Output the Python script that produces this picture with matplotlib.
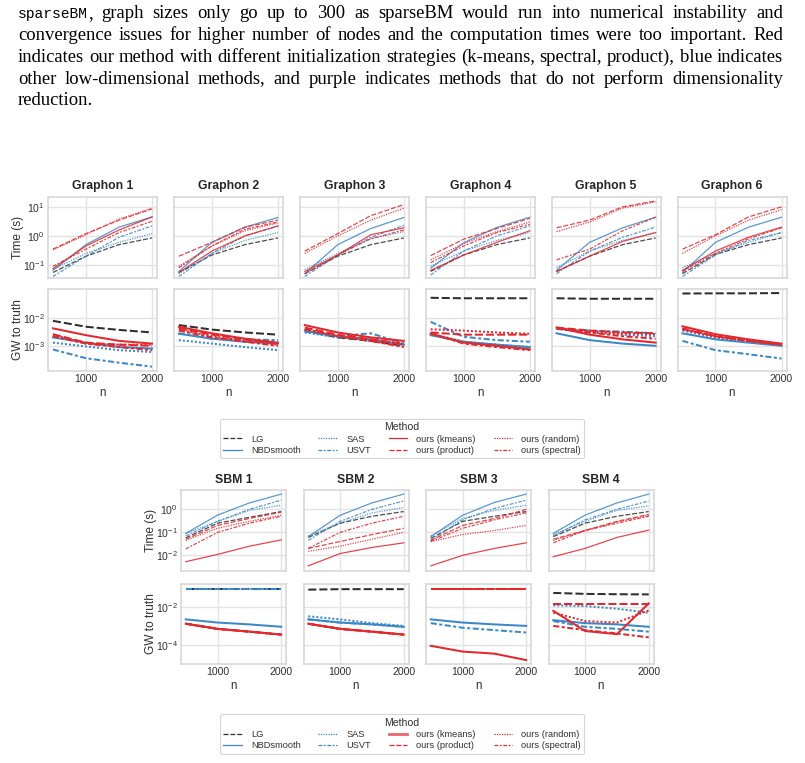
import matplotlib
matplotlib.use("Agg")
import matplotlib.pyplot as plt
from matplotlib.lines import Line2D

plt.rcParams['font.family'] = ['Liberation Sans', 'DejaVu Sans']

W, H = 805, 763

n_vals = [500, 1000, 1500, 2000]
methods = ["LG", "NBDsmooth", "SAS", "USVT",
           "ours (kmeans)", "ours (product)", "ours (random)", "ours (spectral)"]

graphon_titles = ["Graphon 1", "Graphon 2", "Graphon 3", "Graphon 4", "Graphon 5", "Graphon 6"]
sbm_titles = ["SBM 1", "SBM 2", "SBM 3", "SBM 4"]

# computation time (s), method order as in `methods`
g1_time = [[0.055, 0.2, 0.5, 0.85], [0.065, 0.5, 2.0, 4.5], [0.07, 0.25, 0.6, 1.2], [0.04, 0.2, 0.9, 2.2],
           [0.075, 0.45, 1.6, 4.5], [0.35, 1.2, 3.5, 8.5], [0.33, 1.1, 3.8, 9.0], [0.09, 0.35, 1.3, 3.2]]
g2_time = [[0.055, 0.22, 0.5, 0.85], [0.06, 0.6, 2.0, 4.3], [0.05, 0.25, 0.7, 1.3], [0.04, 0.25, 1.0, 2.2],
           [0.055, 0.3, 1.0, 2.2], [0.2, 0.6, 2.0, 3.5], [0.09, 0.45, 1.5, 2.8], [0.08, 0.45, 1.7, 3.0]]
g3_time = [[0.05, 0.2, 0.5, 0.85], [0.05, 0.5, 1.8, 4.3], [0.07, 0.25, 0.8, 1.4], [0.04, 0.22, 0.9, 2.3],
           [0.06, 0.22, 1.1, 1.9], [0.3, 1.2, 5.0, 12.0], [0.25, 1.0, 3.5, 9.0], [0.05, 0.22, 0.8, 1.6]]
g4_time = [[0.06, 0.22, 0.5, 0.85], [0.077, 0.58, 1.95, 4.4], [0.09, 0.3, 0.7, 1.3], [0.045, 0.3, 1.0, 2.2],
           [0.065, 0.22, 0.6, 1.5], [0.21, 0.77, 1.8, 4.0], [0.15, 0.55, 1.4, 3.0], [0.12, 0.45, 1.3, 2.5]]
g5_time = [[0.06, 0.2, 0.5, 0.85], [0.065, 0.6, 1.9, 4.4], [0.08, 0.3, 0.7, 1.3], [0.05, 0.3, 0.9, 2.0],
           [0.06, 0.2, 0.65, 1.3], [1.9, 3.5, 10.0, 16.0], [1.4, 3.0, 9.0, 15.0], [0.15, 0.35, 1.5, 4.4]]
g6_time = [[0.05, 0.23, 0.5, 0.85], [0.055, 0.6, 2.0, 4.4], [0.08, 0.25, 0.6, 1.3], [0.04, 0.22, 0.7, 1.3],
           [0.065, 0.3, 0.9, 2.0], [0.35, 1.1, 4.5, 10.0], [0.25, 1.0, 3.5, 8.0], [0.06, 0.25, 0.8, 1.9]]

# GW distance to truth
g1_gw = [[0.0078, 0.0048, 0.0037, 0.003], [0.002, 0.0013, 0.0009, 0.0008], [0.0013, 0.00095, 0.0007, 0.0006],
         [0.00074, 0.00036, 0.00025, 0.00018], [0.0042, 0.0024, 0.0015, 0.0012], [0.0026, 0.0013, 0.0011, 0.001],
         [0.0025, 0.0012, 0.0011, 0.0011], [0.0022, 0.0012, 0.0009, 0.0007]]
g2_gw = [[0.0055, 0.0038, 0.003, 0.0025], [0.0027, 0.0018, 0.0014, 0.0012], [0.0016, 0.0012, 0.0009, 0.0007],
         [0.0028, 0.0018, 0.0017, 0.0016], [0.0048, 0.0028, 0.0018, 0.0013], [0.0042, 0.0025, 0.0017, 0.0012],
         [0.0038, 0.0022, 0.0015, 0.0011], [0.0035, 0.002, 0.0014, 0.001]]
g3_gw = [[0.0035, 0.002, 0.0015, 0.001], [0.0035, 0.0022, 0.0017, 0.0011], [0.003, 0.002, 0.0016, 0.0012],
         [0.0032, 0.0022, 0.0028, 0.0012], [0.0055, 0.003, 0.002, 0.0015], [0.0045, 0.0025, 0.0017, 0.0012],
         [0.0038, 0.0022, 0.0015, 0.0011], [0.004, 0.0022, 0.0015, 0.0009]]
g4_gw = [[0.052, 0.05, 0.05, 0.05], [0.0024, 0.0014, 0.0011, 0.0009], [0.0028, 0.0014, 0.0011, 0.0009],
         [0.0072, 0.0021, 0.0016, 0.0014], [0.0027, 0.0013, 0.001, 0.00075], [0.003, 0.0025, 0.0025, 0.0025],
         [0.0039, 0.0035, 0.003, 0.0027], [0.0028, 0.0012, 0.0009, 0.0007]]
g5_gw = [[0.05, 0.048, 0.048, 0.048], [0.0028, 0.0016, 0.0012, 0.001], [0.004, 0.003, 0.0025, 0.0022],
         [0.004, 0.0035, 0.0032, 0.0028], [0.0045, 0.0025, 0.0017, 0.0013], [0.0045, 0.0035, 0.003, 0.0028],
         [0.0042, 0.0032, 0.0028, 0.0026], [0.0042, 0.003, 0.0022, 0.0018]]
g6_gw = [[0.074, 0.075, 0.075, 0.077], [0.0028, 0.0017, 0.0013, 0.001], [0.0035, 0.002, 0.0014, 0.0011],
         [0.0015, 0.0007, 0.0005, 0.00035], [0.005, 0.0026, 0.0017, 0.0012], [0.004, 0.0022, 0.0015, 0.0011],
         [0.0038, 0.0021, 0.0015, 0.0011], [0.0042, 0.0022, 0.0015, 0.0011]]

s1_time = [[0.058, 0.25, 0.45, 0.8], [0.09, 0.56, 1.9, 4.6], [0.09, 0.3, 0.9, 1.5], [0.07, 0.3, 1.0, 2.5],
           [0.0053, 0.011, 0.025, 0.047], [0.05, 0.2, 0.4, 0.75], [0.045, 0.15, 0.3, 0.55], [0.019, 0.1, 0.25, 0.5]]
s2_time = [[0.06, 0.25, 0.5, 0.8], [0.065, 0.55, 1.9, 4.6], [0.07, 0.25, 0.7, 1.2], [0.045, 0.3, 1.0, 2.3],
           [0.0035, 0.012, 0.022, 0.035], [0.02, 0.04, 0.08, 0.15], [0.015, 0.025, 0.05, 0.1], [0.02, 0.1, 0.25, 0.5]]
s3_time = [[0.055, 0.3, 0.5, 0.8], [0.065, 0.55, 2.0, 4.6], [0.07, 0.4, 0.9, 1.5], [0.045, 0.35, 1.1, 2.5],
           [0.0035, 0.01, 0.02, 0.035], [0.045, 0.2, 0.4, 1.0], [0.04, 0.08, 0.12, 0.2], [0.04, 0.15, 0.35, 0.7]]
s4_time = [[0.065, 0.25, 0.5, 0.8], [0.09, 0.56, 1.9, 4.6], [0.08, 0.3, 0.9, 1.4], [0.07, 0.35, 1.0, 2.3],
           [0.0087, 0.02, 0.06, 0.125], [0.05, 0.12, 0.3, 0.6], [0.045, 0.12, 0.28, 0.55], [0.035, 0.12, 0.25, 0.5]]

s1_gw = [[0.09, 0.09, 0.09, 0.09], [0.0022, 0.0015, 0.0012, 0.0009], [0.09, 0.09, 0.09, 0.09],
         [0.09, 0.09, 0.09, 0.09], [0.0013, 0.0007, 0.0005, 0.00035], [0.0013, 0.0007, 0.0005, 0.00035],
         [0.0013, 0.0007, 0.0005, 0.00035], [0.0013, 0.0007, 0.0005, 0.00035]]
s2_gw = [[0.08, 0.085, 0.085, 0.085], [0.0022, 0.0015, 0.0012, 0.0009], [0.0032, 0.0022, 0.0014, 0.001],
         [0.0022, 0.0015, 0.0012, 0.0009], [0.0013, 0.0007, 0.0005, 0.00035], [0.0013, 0.0007, 0.0005, 0.00035],
         [0.0013, 0.0007, 0.0005, 0.00035], [0.0013, 0.0007, 0.0005, 0.00035]]
s3_gw = [[0.09, 0.09, 0.09, 0.09], [0.0022, 0.0015, 0.0012, 0.001], [0.09, 0.09, 0.09, 0.09],
         [0.0014, 0.0008, 0.0006, 0.00045], [0.00009, 0.000045, 0.000035, 0.000016], [0.09, 0.09, 0.09, 0.09],
         [0.09, 0.09, 0.09, 0.09], [0.09, 0.09, 0.09, 0.09]]
s4_gw = [[0.054, 0.048, 0.046, 0.045], [0.002, 0.0014, 0.0012, 0.0009], [0.012, 0.011, 0.008, 0.0049],
         [0.0018, 0.0009, 0.0007, 0.0005], [0.0062, 0.00054, 0.00037, 0.015], [0.015, 0.015, 0.015, 0.015],
         [0.005, 0.0018, 0.0015, 0.0065], [0.001, 0.0006, 0.0004, 0.00025]]

caption = [
    "graph sizes only go up to 300 as sparseBM would run into numerical instability and",
    "convergence issues for higher number of nodes and the computation times were too important. Red",
    "indicates our method with different initialization strategies (k-means, spectral, product), blue indicates",
    "other low-dimensional methods, and purple indicates methods that do not perform dimensionality",
    "reduction.",
]

BLACK = '#2e2e2e'
BLUE = '#3b88c9'
RED = '#e2272d'
DASH = (4, 1.5)
DOT = (1, 1)
DASHDOT = (3, 1.25, 1.5, 1.25)
styles = {
    "LG": (BLACK, DASH),
    "NBDsmooth": (BLUE, None),
    "SAS": (BLUE, DOT),
    "USVT": (BLUE, DASHDOT),
    "ours (kmeans)": (RED, None),
    "ours (product)": (RED, DASH),
    "ours (random)": (RED, DOT),
    "ours (spectral)": (RED, DASHDOT),
}
TXT = '#303030'

fig = plt.figure(figsize=(W / 100, H / 100), dpi=100)


def ax_rect(left, top, w, h):
    return [left / W, 1 - (top + h) / H, w / W, h / H]


def ls(d):
    return '-' if d is None else (0, d)


def style_ax(ax, yticks):
    ax.grid(True, color='#e3e3e3', lw=1.0)
    ax.set_axisbelow(True)
    for s in ax.spines.values():
        s.set_color('#d4d4d4')
        s.set_linewidth(1.1)
    ax.set_xlim(425, 2075)
    ax.set_xticks([1000, 2000])
    ax.set_yticks(yticks)
    ax.minorticks_off()
    ax.tick_params(length=0, labelsize=7.6, labelcolor=TXT, pad=2.5)


def draw(ax, data, lw, alpha):
    for m, vals in zip(methods, data):
        c, d = styles[m]
        ax.plot(n_vals, vals, color=c, linestyle=ls(d), lw=lw, alpha=alpha)


def grid_block(titles, times, gws, lefts, w, top1, h1, top2, h2, tticks, gticks, tlim, glim,
               title_y, nlabel_y):
    ax_t0 = None
    ax_g0 = None
    for i, (title, tdat, gdat) in enumerate(zip(titles, times, gws)):
        at = fig.add_axes(ax_rect(lefts[i], top1, w, h1), sharey=ax_t0)
        ag = fig.add_axes(ax_rect(lefts[i], top2, w, h2), sharey=ax_g0)
        if ax_t0 is None:
            ax_t0, ax_g0 = at, ag
        at.set_yscale('log')
        ag.set_yscale('log')
        draw(at, tdat, 0.9, 0.85)
        draw(ag, gdat, 1.45, 1.0)
        style_ax(at, tticks)
        style_ax(ag, gticks)
        at.tick_params(labelbottom=False)
        if i > 0:
            at.tick_params(labelleft=False)
            ag.tick_params(labelleft=False)
        fig.text((lefts[i] + w / 2) / W, 1 - title_y / H, title, ha='center', va='center',
                 fontsize=8.8, fontweight='bold', color='#262626')
        fig.text((lefts[i] + w / 2) / W, 1 - nlabel_y / H, "n", ha='center', va='center',
                 fontsize=8.4, color=TXT)
    xl = lefts[0] - 30
    fig.text(xl / W, 1 - (top1 + h1 / 2) / H, "Time (s)", rotation=90, ha='center', va='center',
             fontsize=8.6, color=TXT)
    fig.text(xl / W, 1 - (top2 + h2 / 2) / H, "GW to truth", rotation=90, ha='center', va='center',
             fontsize=8.6, color=TXT)
    ax_t0.set_ylim(*tlim)
    ax_g0.set_ylim(*glim)


graphon_lefts = [48 + i * 125.9 for i in range(6)]
grid_block(graphon_titles, [g1_time, g2_time, g3_time, g4_time, g5_time, g6_time],
           [g1_gw, g2_gw, g3_gw, g4_gw, g5_gw, g6_gw], graphon_lefts, 109,
           197, 81, 289, 82, [1e-1, 1, 10], [1e-3, 1e-2],
           (10 ** -1.45, 10 ** 1.34), (10 ** -3.9, 10 ** -0.97), 186, 393)

sbm_lefts = [181 + i * 122.5 for i in range(4)]
grid_block(sbm_titles, [s1_time, s2_time, s3_time, s4_time], [s1_gw, s2_gw, s3_gw, s4_gw],
           sbm_lefts, 105, 490, 81, 584, 80, [1e-2, 1e-1, 1], [1e-4, 1e-2],
           (10 ** -2.68, 10 ** 0.84), (10 ** -5.0, 10 ** -0.8), 480, 686)


def legend_at(ycenter, kmeans_lw):
    handles = []
    for m in methods:
        c, d = styles[m]
        thick = m == "ours (kmeans)" and kmeans_lw > 1
        handles.append(Line2D([], [], color=c, linestyle=ls(d), lw=kmeans_lw if thick else 0.9,
                              alpha=0.7 if thick else 1))
    leg = fig.legend(handles, methods, ncol=4, title="Method", loc='center',
                     bbox_to_anchor=(402 / W, 1 - ycenter / H), fontsize=6.7, title_fontsize=7.6,
                     frameon=True, edgecolor='#d6d6d6', framealpha=1, fancybox=True,
                     columnspacing=1.9, handlelength=2.0, handletextpad=1.0, labelspacing=0.25,
                     borderpad=0.35)
    leg.get_frame().set_linewidth(0.8)
    for t in leg.get_texts():
        t.set_color(TXT)
    leg.get_title().set_color(TXT)
    return leg


legend_at(438.5, 0.9)
legend_at(734, 2.0)

# caption text, justified between X0 and X1
renderer = fig.canvas.get_renderer()
X0, X1 = 18, 783
FS = 13.4
MONO_FS = 10.5
SERIF = 'Liberation Serif'
baselines = [18, 40, 62, 83.5, 105]


def place_line(words, y, justify):
    objs = []
    widths = []
    for segs in words:
        parts = []
        wsum = 0
        for text, fam in segs:
            t = fig.text(0, 1 - y / H, text, fontsize=MONO_FS if 'Mono' in fam else FS,
                         family=fam, va='baseline', color='black')
            bw = t.get_window_extent(renderer).width
            parts.append((t, bw))
            wsum += bw
        objs.append(parts)
        widths.append(wsum)
    if justify and len(objs) > 1:
        gap = (X1 - X0 - sum(widths)) / (len(objs) - 1)
    else:
        gap = FS * 100 / 72 * 0.25
    x = X0
    for parts, wsum in zip(objs, widths):
        xx = x
        for t, bw in parts:
            t.set_x(xx / W)
            xx += bw
        x += wsum + gap


for k, line in enumerate(caption):
    words = [[(w, SERIF)] for w in line.split(" ")]
    if k == 0:
        words = [[("sparseBM", 'Liberation Mono'), (",", SERIF)]] + words
    place_line(words, baselines[k], k < len(caption) - 1)

fig.savefig("out.png", dpi=100)
